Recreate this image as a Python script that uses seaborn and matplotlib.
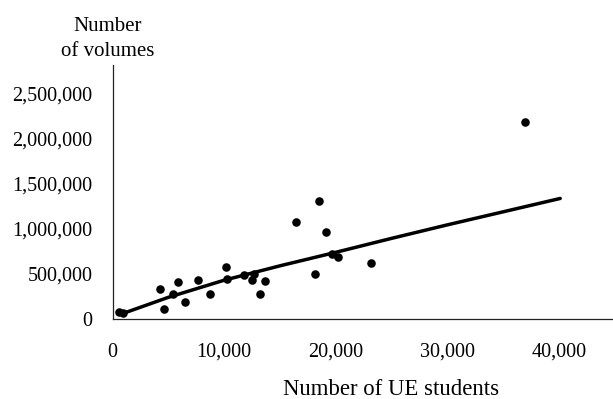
import matplotlib
matplotlib.use("Agg")
import matplotlib.pyplot as plt
import matplotlib.ticker as mticker
import pandas as pd
import seaborn as sns

# Library holdings versus enrolment
students = [540, 985, 4270, 4570, 5400, 5850, 6450, 7650, 8770, 10150,
            10240, 11790, 12480, 12690, 13250, 13640, 16420, 18150, 18480,
            19110, 19700, 20230, 23130, 36910]
volumes = [73000, 56000, 333000, 100000, 270000, 407000, 178000, 422000,
           267000, 567000, 444000, 484000, 426000, 489000, 270000, 418000,
           1070000, 496000, 1303000, 959000, 714000, 684000, 611000, 2178000]

# Fitted trend curve, read along its path
trend_x = [800, 5000, 10000, 15000, 20000, 25000, 30000, 35000, 40100]
trend_y = [50000, 235000, 425000, 585000, 735000, 890000, 1040000, 1185000, 1333000]

x_ticks = [0, 10000, 20000, 30000, 40000]
y_ticks = [0, 500000, 1000000, 1500000, 2000000, 2500000]

pts = pd.DataFrame({"students": students, "volumes": volumes})
trend = pd.DataFrame({"students": trend_x, "volumes": trend_y})

sns.set_theme(style="white")
plt.rcParams["font.family"] = ["Liberation Serif", "DejaVu Serif"]

fig = plt.figure(figsize=(6.13, 3.99), dpi=100)
ax = fig.add_axes([112.5 / 613, 1 - 318.5 / 399, 1 - 112.5 / 613, (318.5 - 65) / 399])

sns.lineplot(data=trend, x="students", y="volumes", ax=ax, color="black",
             linewidth=2.5, sort=True, zorder=2)
sns.scatterplot(data=pts, x="students", y="volumes", ax=ax, color="black",
                s=38, edgecolor="black", linewidth=0, zorder=3)

ax.set_xlim(0, 44830)
ax.set_ylim(0, 2815000)
ax.set_xticks(x_ticks)
ax.set_yticks(y_ticks)
fmt = mticker.FuncFormatter(lambda v, p: f"{int(v):,}")
ax.xaxis.set_major_formatter(fmt)
ax.yaxis.set_major_formatter(fmt)
ax.set_xlabel("")
ax.set_ylabel("")

ax.tick_params(axis="both", direction="in", length=3.6, width=0.9,
               color="#222222", labelsize=14.5, labelcolor="black")
ax.tick_params(axis="x", pad=17.5)
ax.tick_params(axis="y", pad=14.4)

for side in ("top", "right"):
    ax.spines[side].set_visible(False)
for side in ("left", "bottom"):
    ax.spines[side].set_color("#222222")
    ax.spines[side].set_linewidth(0.9)

fig.text(107.5 / 613, 1 - 30.7 / 399, "Number", ha="center", va="baseline",
         fontsize=15, color="black")
fig.text(107.5 / 613, 1 - 56 / 399, "of volumes", ha="center", va="baseline",
         fontsize=15, color="black")
fig.text(391.3 / 613, 1 - 395 / 399, "Number of UE students", ha="center",
         va="baseline", fontsize=16.4, color="black")

fig.savefig("out.png", dpi=100, facecolor="white")
